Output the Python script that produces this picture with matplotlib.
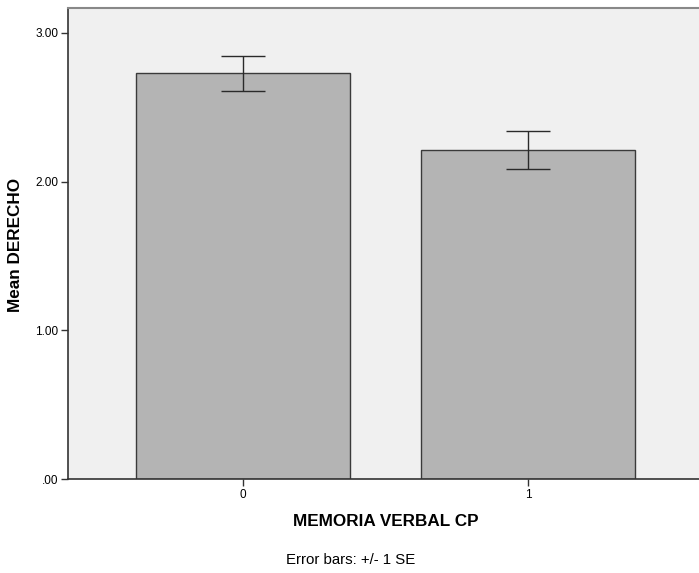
import matplotlib
matplotlib.use("Agg")
import matplotlib.pyplot as plt

categories = ["0", "1"]
means = [2.73, 2.213]
se = [0.117, 0.131]
yticks = [0.0, 1.0, 2.0, 3.0]
ytick_labels = [".00", "1.00", "2.00", "3.00"]

plt.rcParams['font.family'] = ['Liberation Sans', 'DejaVu Sans']

W, H = 699, 573
fig = plt.figure(figsize=(W/100, H/100), dpi=100)
fig.patch.set_facecolor('white')
ax = fig.add_axes([68/W, 1-479/H, (703-68)/W, (479-8)/H])
ax.set_facecolor('#f0f0f0')

x = list(range(len(categories)))
ax.bar(x, means, width=0.75, color='#b4b4b4', edgecolor='#3a3a3a', linewidth=1.0, zorder=2)
ax.errorbar(x, means, yerr=se, fmt='none', ecolor='#2a2a2a', elinewidth=1.0,
            capsize=15.5, capthick=1.0, zorder=3)

ax.set_xlim(-0.614, 1.614)
ax.set_ylim(0, 3.168)
ax.set_xticks(x)
ax.set_xticklabels(categories, fontsize=8.5)
ax.set_yticks(yticks)
ax.set_yticklabels(ytick_labels, fontsize=8.5)
ax.tick_params(axis='both', direction='out', length=5, width=1, color='#333333', pad=2)

for s in ['left', 'bottom']:
    ax.spines[s].set_color('#333333')
    ax.spines[s].set_linewidth(1.2)
for s in ['top', 'right']:
    ax.spines[s].set_color('#888888')
    ax.spines[s].set_linewidth(1.5)

fig.text(16/W, 1-245/H, "Mean DERECHO", rotation=90, ha='center', va='center',
         fontsize=12.3, fontweight='bold')
fig.text(386/W, 1-522/H, "MEMORIA VERBAL CP", ha='center', va='center',
         fontsize=12.3, fontweight='bold')
fig.text(351/W, 1-560/H, "Error bars: +/- 1 SE", ha='center', va='center', fontsize=10.8)

fig.savefig("out.png", dpi=100)
